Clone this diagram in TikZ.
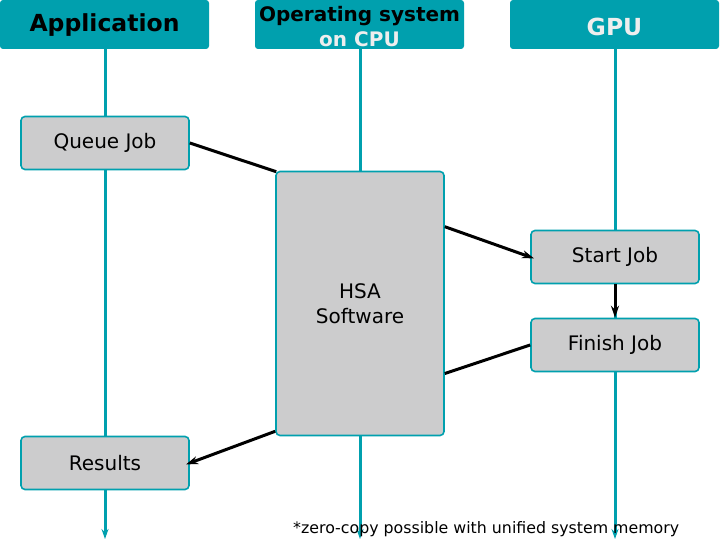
\documentclass[tikz,border=0pt]{standalone}
\usepackage{fontspec}
\setmainfont{DejaVu Sans}
\usetikzlibrary{arrows.meta,calc}
\definecolor{teal1}{HTML}{00A0AE}
\definecolor{boxgray}{HTML}{CCCCCD}
\definecolor{lighttxt}{HTML}{EEEEEE}
\begin{document}
\begin{tikzpicture}[x=1pt,y=-1pt,
  header/.style={fill=teal1,draw=none,rounded corners=3pt,minimum width=209pt,minimum height=49pt,inner sep=0pt},
  headtext/.style={inner sep=0pt,align=center,font=\bfseries\fontsize{23.5}{28}\selectfont},
  jobbox/.style={fill=boxgray,draw=teal1,line width=1.6pt,rounded corners=4pt,minimum width=168pt,minimum height=53pt,inner sep=0pt,align=center,font=\fontsize{20}{24.5}\selectfont},
  lifeline/.style={draw=teal1,line width=3pt,-{Stealth[length=10pt,width=7pt]}},
  msg/.style={draw=black,line width=3pt},
  msgarrow/.style={msg,-{Stealth[length=12pt,width=8pt]}}
]
\useasboundingbox (0,0) rectangle (720,540);
\fill[white] (0,0) rectangle (720,540);

\coordinate (append) at (105,539);
\coordinate (osend) at (360,539);
\coordinate (gpuend) at (615,539);

\node[header] (app) at (104.5,24.5) {};
\node[header] (os) at (359.5,24.5) {};
\node[header] (gpu) at (614.5,24.5) {};

\draw[lifeline] (app.south -| append) -- (append);
\draw[lifeline] (os.south -| osend) -- (osend);
\draw[lifeline] (gpu.south -| gpuend) -- (gpuend);

\node[headtext] (apptext) at (104.5,25.5) {Application};
\node[headtext,font=\bfseries\fontsize{20}{25}\selectfont] (ostext) at (359.5,26.5) {Operating system\\\textcolor{lighttxt}{on CPU}};
\node[headtext,text=lighttxt] (gputext) at (614.5,26.5) {GPU};

\node[jobbox] (queue) at (105,143) {Queue Job};
\node[jobbox,minimum height=264pt] (hsa) at (360,303.5) {HSA\\Software};
\node[jobbox] (start) at (615,257) {Start Job};
\node[jobbox] (finish) at (615,345) {Finish Job};
\node[jobbox] (results) at (105,463) {Results};

\draw[msg] (queue.east) -- ($(hsa.north west)+(1,1)$);
\draw[msgarrow,shorten >=-4pt] ($(hsa.north east)+(0,56)$) -- (start.west);
\draw[msgarrow] (start.south) -- (finish.north);
\draw[msg] (finish.west) -- ($(hsa.east)+(0,70)$);
\draw[msgarrow,shorten >=-4pt] ($(hsa.south west)+(0,-5)$) -- (results.east);

\node[anchor=west,inner sep=0pt,font=\fontsize{15.8}{18}\selectfont] (note) at (293,529) {*zero-copy possible with unified system memory};
\end{tikzpicture}
\end{document}
